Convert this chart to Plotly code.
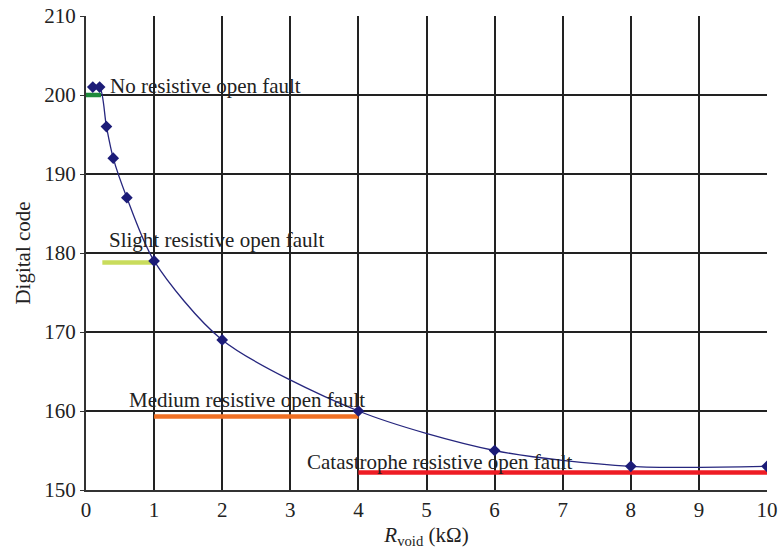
import plotly.graph_objects as go

# ---- data ----
r_void_kohm = [0.1, 0.2, 0.3, 0.4, 0.6, 1, 2, 4, 6, 8, 10]
digital_code = [201, 201, 196, 192, 187, 179, 169, 160, 155, 153, 153]

fault_names = ["No resistive open fault", "Slight resistive open fault",
               "Medium resistive open fault", "Catastrophe resistive open fault"]
fault_level = [200, 178.8, 159.3, 152.2]
fault_x_start = [0, 0.24, 1, 4]
fault_x_end = [0.22, 1, 4, 10]

x_ticks = [0, 1, 2, 3, 4, 5, 6, 7, 8, 9, 10]
y_ticks = [150, 160, 170, 180, 190, 200, 210]

# ---- styles ----
fault_colors = ["#1e8a3c", "#c9dc5c", "#f07024", "#ee1c24"]
label_pos = [(0.33, 201.1), (0.31, 181.6), (0.6, 161.4), (3.22, 153.5)]
FONT = "Liberation Serif, Times New Roman, serif"

fig = go.Figure()

for name, lvl, xs, xe, col in zip(fault_names, fault_level, fault_x_start, fault_x_end, fault_colors):
    fig.add_trace(go.Scatter(x=[xs, xe], y=[lvl, lvl], mode="lines",
                             line=dict(color=col, width=4.5), showlegend=False,
                             hoverinfo="skip"))

fig.add_trace(go.Scatter(x=r_void_kohm, y=digital_code, mode="lines+markers",
                         line=dict(color="#26267e", width=1.3, shape="spline", smoothing=0.8),
                         marker=dict(symbol="diamond", size=9, color="#1c1c78"),
                         showlegend=False))

for name, (ax, ay) in zip(fault_names, label_pos):
    fig.add_annotation(x=ax, y=ay, xref="x", yref="y", text=name, showarrow=False,
                       xanchor="left", yanchor="middle",
                       font=dict(family=FONT, size=21, color="#222222"))

fig.update_layout(
    width=782, height=552,
    margin=dict(l=86, r=15, t=16, b=62),
    paper_bgcolor="white", plot_bgcolor="white",
    font=dict(family=FONT, size=21, color="#222222"),
)
fig.update_xaxes(range=[0, 10], tickvals=x_ticks, showgrid=True, gridcolor="#222222",
                 gridwidth=1.5, showline=True, linecolor="#333333", linewidth=2,
                 zeroline=False, ticks="", ticklen=4, automargin=False,
                 title=dict(text="<i>R</i><sub>void</sub> (kΩ)", font=dict(size=21), standoff=6),
                 tickfont=dict(size=21))
fig.update_yaxes(range=[150, 210], tickvals=y_ticks, showgrid=True, gridcolor="#222222",
                 gridwidth=1.5, showline=True, linecolor="#333333", linewidth=2,
                 zeroline=False, ticks="outside", ticklen=4, tickcolor="#333333",
                 automargin=False,
                 title=dict(text="Digital code", font=dict(size=21), standoff=8),
                 tickfont=dict(size=21))

fig.write_html("out.html")
